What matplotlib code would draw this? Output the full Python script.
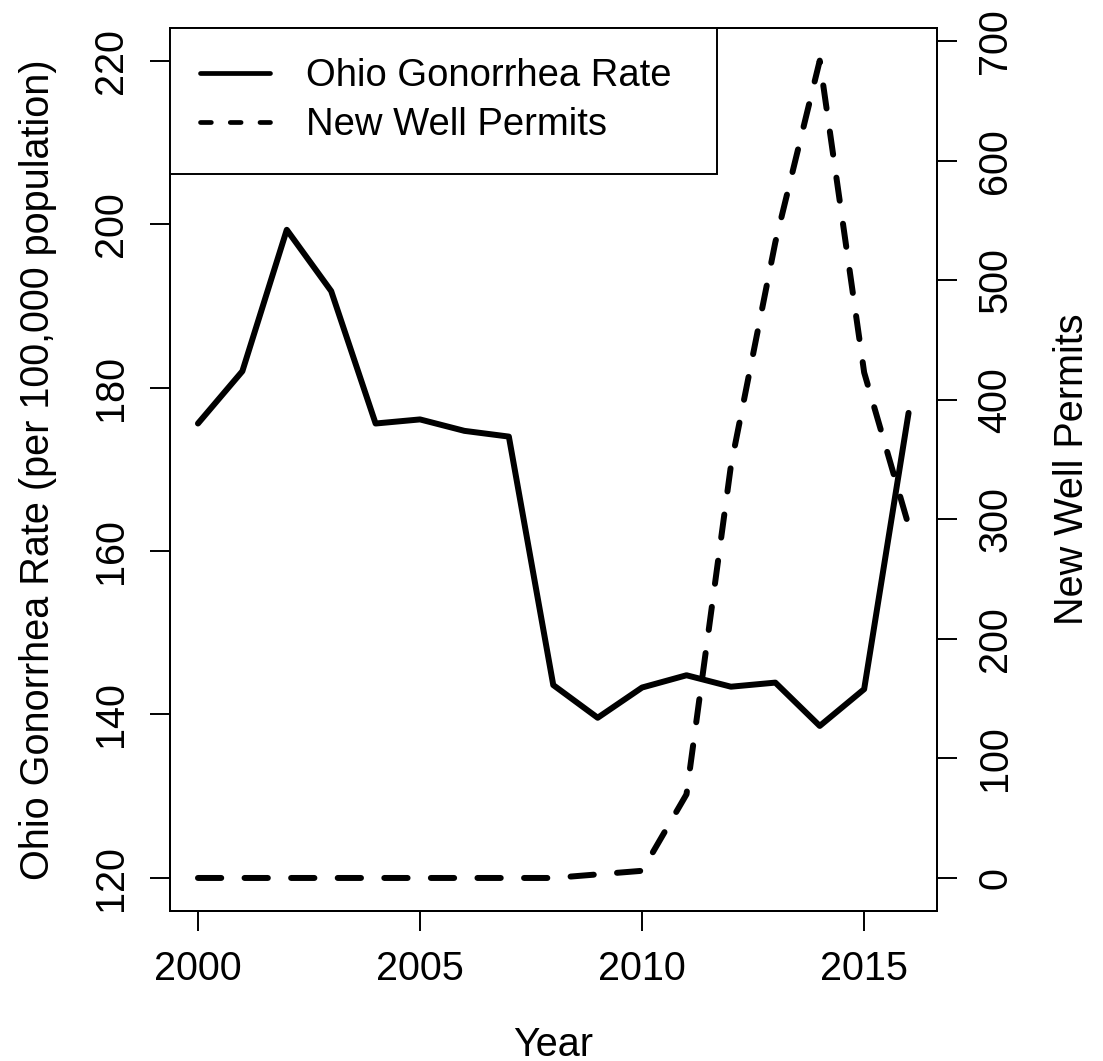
import matplotlib
matplotlib.use("Agg")
import matplotlib.pyplot as plt
from matplotlib.lines import Line2D

plt.rcParams['font.family'] = ['Liberation Sans', 'DejaVu Sans']

# annual series
years = list(range(2000, 2017))
gonorrhea_rate = [175.6, 182.0, 199.3, 191.8, 175.6, 176.1, 174.7, 174.0, 143.6,
                  139.6, 143.3, 144.8, 143.4, 143.9, 138.6, 143.1, 176.9]
well_permits = [0, 0, 0, 0, 0, 0, 0, 0, 0, 3, 6, 70, 345, 532, 684, 423, 295]

x_ticks = [2000, 2005, 2010, 2015]
left_ticks = [120, 140, 160, 180, 200, 220]
right_ticks = [0, 100, 200, 300, 400, 500, 600, 700]
labels = ["Ohio Gonorrhea Rate", "New Well Permits"]

FS = 28.5
LW = 4.3
DASH = (0, (3.9, 3.9))


def r_limits(lo, hi):
    # base-R style 4% padding on each side
    pad = (hi - lo) * 0.04
    return lo - pad, hi + pad


fig = plt.figure(figsize=(11.03, 10.61), dpi=100)
ax = fig.add_axes([0.1537, 0.1417, 0.6958, 0.8320])
ax2 = ax.twinx()

ax.plot(years, gonorrhea_rate, color="black", lw=LW,
        solid_joinstyle="round", solid_capstyle="round")
ax2.plot(years, well_permits, color="black", lw=LW, ls=DASH,
         dash_capstyle="round", dash_joinstyle="round")

ax.set_xlim(*r_limits(min(years), max(years)))
ax.set_ylim(*r_limits(min(left_ticks), max(left_ticks)))
ax2.set_ylim(*r_limits(min(well_permits), max(well_permits)))

ax.set_xticks(x_ticks)
ax.set_yticks(left_ticks)
ax2.set_yticks(right_ticks)

for a in (ax, ax2):
    for sp in a.spines.values():
        sp.set_linewidth(1.4)
    a.tick_params(length=14.4, width=1.4, labelsize=FS, direction="out")

ax.tick_params(axis="x", pad=14)
ax.tick_params(axis="y", pad=14, labelrotation=90)
ax2.tick_params(axis="y", pad=14, labelrotation=90)
for t in ax.get_yticklabels():
    t.set_va("center")
for t in ax2.get_yticklabels():
    t.set_va("center")

ax.set_xlabel("Year", fontsize=FS, labelpad=27)
ax.set_ylabel("Ohio Gonorrhea Rate (per 100,000 population)", fontsize=FS, labelpad=25)
ax2.set_ylabel("New Well Permits", fontsize=FS, labelpad=28)

handles = [
    Line2D([], [], color="black", lw=3.4, solid_capstyle="round"),
    Line2D([], [], color="black", lw=3.4, ls=(0, (2.3, 4.0)), dash_capstyle="round"),
]
leg = ax2.legend(handles, labels, loc="upper left",
                 bbox_to_anchor=(0, 0.8383, 0.7127, 0.1617), mode="expand",
                 borderaxespad=0, fontsize=27.5, handlelength=1.84,
                 handletextpad=0.92, borderpad=0.8, labelspacing=0.34,
                 fancybox=False, framealpha=1, edgecolor="black")
leg.get_frame().set_linewidth(1.4)

fig.savefig("out.png", dpi=100)
